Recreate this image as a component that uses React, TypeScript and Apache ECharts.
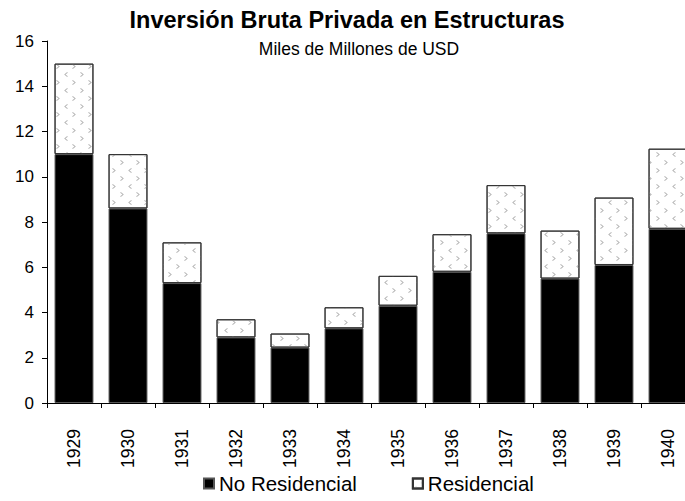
import React, { useEffect, useRef } from "react";
import * as echarts from "echarts";

const years = ["1929", "1930", "1931", "1932", "1933", "1934", "1935", "1936", "1937", "1938", "1939", "1940"];
const noResidencial = [11.0, 8.6, 5.3, 2.9, 2.45, 3.3, 4.3, 5.8, 7.5, 5.5, 6.1, 7.7];
const residencial = [4.0, 2.4, 1.8, 0.8, 0.62, 0.93, 1.32, 1.66, 2.13, 2.12, 2.98, 3.54];
const titleText = "Inversión Bruta Privada en Estructuras";
const subtitleText = "Miles de Millones de USD";
const FONT = "'Liberation Sans', Arial, sans-serif";

export default function App() {
  const ref = useRef<HTMLDivElement>(null);
  useEffect(() => {
    if (!ref.current) return;
    const chart = echarts.init(ref.current, undefined, { renderer: "svg" });
    chart.setOption({
      animation: false,
      backgroundColor: "#ffffff",
      title: [
        {
          text: titleText,
          left: 342,
          textAlign: "center",
          top: 3,
          textStyle: { fontFamily: FONT, fontWeight: "bold", fontSize: 23.5, color: "#000" },
        },
        {
          text: subtitleText,
          left: 354,
          textAlign: "center",
          top: 35,
          textStyle: { fontFamily: FONT, fontWeight: "normal", fontSize: 17.5, color: "#000" },
        },
      ],
      legend: {
        bottom: 2,
        left: 198,
        itemWidth: 10,
        itemHeight: 10,
        itemGap: 55,
        icon: "rect",
        textStyle: { fontFamily: FONT, fontSize: 20.5, color: "#000" },
        data: ["No Residencial", "Residencial"],
      },
      grid: { left: 47, top: 41, right: 0, bottom: 98, containLabel: false },
      xAxis: {
        type: "category",
        data: years,
        axisLine: { show: true, lineStyle: { color: "#000", width: 1 } },
        axisTick: { show: true, alignWithLabel: false, length: 5, lineStyle: { color: "#000" } },
        axisLabel: { rotate: 90, margin: 26, fontFamily: FONT, fontSize: 17.5, color: "#000" },
      },
      yAxis: {
        type: "value",
        min: 0,
        max: 16,
        interval: 2,
        splitLine: { show: false },
        axisLine: { show: true, lineStyle: { color: "#000", width: 1 } },
        axisTick: { show: true, length: 5, lineStyle: { color: "#000" } },
        axisLabel: { margin: 13, fontFamily: FONT, fontSize: 17, color: "#000" },
      },
      series: [
        {
          name: "No Residencial",
          type: "bar",
          stack: "total",
          barCategoryGap: "28%",
          data: noResidencial,
          itemStyle: { color: "#000", borderColor: "#555", borderWidth: 1 },
        },
        {
          name: "Residencial",
          type: "bar",
          stack: "total",
          barCategoryGap: "28%",
          data: residencial,
          itemStyle: {
            color: "#ffffff",
            borderColor: "#333",
            borderWidth: 1,
            decal: {
              symbol: ["path://M6,0 L7.4,1.4 L2.8,5 L7.4,8.6 L6,10 L0,5 Z", "path://M1.4,0 L7.4,5 L1.4,10 L0,8.6 L4.6,5 L0,1.4 Z"],
              symbolSize: 1,
              color: "#b5b5b5",
              backgroundColor: "#ffffff",
              dashArrayX: [[4, 12], [0, 8, 4, 4]],
              dashArrayY: [5, 2.5],
            },
          },
        },
      ],
    });
    return () => chart.dispose();
  }, []);
  return (
    <div style={{ position: "absolute", left: 0, top: 0, width: 685, height: 501, overflow: "hidden" }}>
      <div ref={ref} style={{ width: 695, height: 501 }} />
    </div>
  );
}
